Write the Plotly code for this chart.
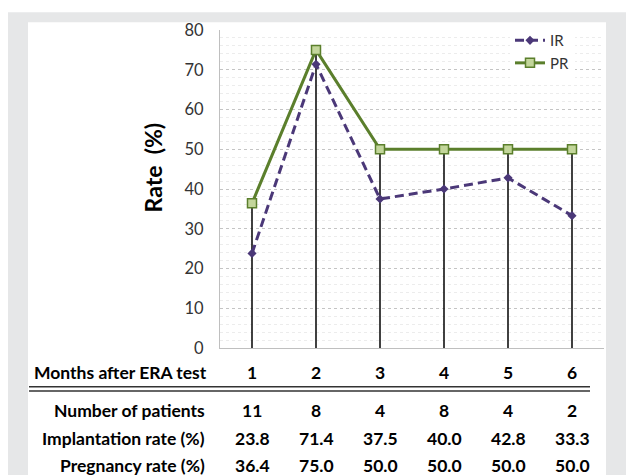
import plotly.graph_objects as go

months = [1, 2, 3, 4, 5, 6]
patients = [11, 8, 4, 8, 4, 2]
implantation = [23.8, 71.4, 37.5, 40.0, 42.8, 33.3]
pregnancy = [36.4, 75.0, 50.0, 50.0, 50.0, 50.0]
y_ticks = [0, 10, 20, 30, 40, 50, 60, 70, 80]

OFF = 8  # page body margin
W, H = 634, 475
L, T = 220 - OFF, 24 - OFF
PW, PH = 604 - 220, 348 - 24
R = W - L - PW
B = H - T - PH
FONT = "Lato"

def px_x(px):
    return (px - OFF - L) / PW

def px_y(py):
    return (H - B - (py - OFF)) / PH

fig = go.Figure()

# drop lines from 0 to the highest value at each month
dx, dy = [], []
for m, a, b in zip(months, implantation, pregnancy):
    dx += [m, m, None]
    dy += [0, max(a, b), None]
fig.add_trace(go.Scatter(x=dx, y=dy, mode="lines", line=dict(color="#111111", width=1.6),
                         showlegend=False, hoverinfo="skip"))

fig.add_trace(go.Scatter(x=months, y=implantation, name="IR", mode="lines+markers",
                         line=dict(color="#4b3878", width=3, dash="9px,5px"),
                         marker=dict(symbol="diamond", size=7, color="#4b3878")))
fig.add_trace(go.Scatter(x=months, y=pregnancy, name="PR", mode="lines+markers",
                         line=dict(color="#5b7f2c", width=3),
                         marker=dict(symbol="square", size=9, color="#c3d69b",
                                     line=dict(color="#5b7f2c", width=1.5))))

shapes = [
    dict(type="rect", xref="paper", yref="paper", x0=px_x(0), x1=px_x(W + 20),
         y0=px_y(H + 20), y1=px_y(6), fillcolor="#e6e7e8", line=dict(width=0), layer="below"),
    dict(type="rect", xref="paper", yref="paper", x0=px_x(28), x1=px_x(606),
         y0=px_y(H + 20), y1=px_y(16), fillcolor="white", line=dict(width=0), layer="below"),
    dict(type="line", xref="paper", yref="paper", x0=px_x(29), x1=px_x(590),
         y0=px_y(387.5), y1=px_y(387.5), line=dict(color="#333333", width=1.6)),
    dict(type="line", xref="paper", yref="paper", x0=px_x(29), x1=px_x(590),
         y0=px_y(391.8), y1=px_y(391.8), line=dict(color="#333333", width=1.6)),
]

annotations = [
    dict(text="<b>Rate  (%)</b>", xref="paper", yref="paper", x=px_x(153), y=px_y(164),
         textangle=-90, showarrow=False, font=dict(family=FONT, size=23, color="#000000"),
         xanchor="center", yanchor="middle"),
]

TS = 17.5
rows = [
    ("Months after ERA test", [str(m) for m in months], 373, "left"),
    ("Number of patients", [str(p) for p in patients], 412, "right"),
    ("Implantation rate (%)", [f"{v:.1f}" for v in implantation], 440, "right"),
    ("Pregnancy rate (%)", [f"{v:.1f}" for v in pregnancy], 468, "right"),
]
for label, vals, py, align in rows:
    if align == "left":
        annotations.append(dict(text=f"<b>{label}</b>", xref="paper", yref="paper",
                                x=px_x(32), y=px_y(py), xanchor="left", yanchor="middle",
                                showarrow=False, font=dict(family=FONT, size=TS, color="#000000")))
    else:
        annotations.append(dict(text=f"<b>{label}</b>", xref="paper", yref="paper",
                                x=px_x(207), y=px_y(py), xanchor="right", yanchor="middle",
                                showarrow=False, font=dict(family=FONT, size=TS, color="#000000")))
    for m, v in zip(months, vals):
        annotations.append(dict(text=f"<b>{v}</b>", xref="x", yref="paper", x=m, y=px_y(py),
                                xanchor="center", yanchor="middle", showarrow=False,
                                font=dict(family=FONT, size=TS, color="#000000")))

fig.update_layout(
    width=W, height=H,
    margin=dict(l=L, r=R, t=T, b=B, pad=0),
    paper_bgcolor="white", plot_bgcolor="white",
    font=dict(family=FONT, size=15, color="#333333"),
    shapes=shapes, annotations=annotations,
    legend=dict(x=px_x(510), y=px_y(18), xanchor="left", yanchor="top",
                bgcolor="white", font=dict(family=FONT, size=15, color="#333333"),
                itemwidth=30, tracegroupgap=0),
    xaxis=dict(range=[0.5, 6.5], showticklabels=False, showgrid=False, zeroline=False,
               showline=True, linecolor="#bfbfbf", linewidth=1, ticks=""),
    yaxis=dict(range=[0, 80], tickvals=y_ticks, showgrid=True, gridcolor="#c4c4c4",
               griddash="dot", gridwidth=1, zeroline=False, showline=True,
               linecolor="#bfbfbf", linewidth=1, ticks="", ticklabelstandoff=12,
               tickfont=dict(family=FONT, size=16.5, color="#333333"),
               minor=dict(dtick=2, showgrid=True, gridcolor="#ececec", gridwidth=1)),
)

fig.write_html("out.html")
